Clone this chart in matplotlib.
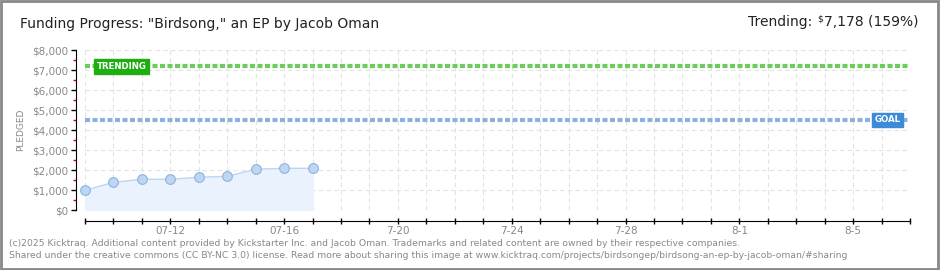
import matplotlib.pyplot as plt
from matplotlib.patches import Rectangle
from matplotlib.ticker import MultipleLocator, FuncFormatter

# days counted from 07-09
day_idx = [0, 1, 2, 3, 4, 5, 6, 7, 8]
pledged = [985, 1385, 1535, 1535, 1635, 1685, 2035, 2085, 2085]
tick_days = [3, 7, 11, 15, 19, 23, 27]
tick_labels = ['07-12', '07-16', '7-20', '7-24', '7-28', '8-1', '8-5']
goal = 4500
trending = 7178
n_days = 29

fig = plt.figure(figsize=(9.4, 2.7), dpi=100)
fig.patches.append(Rectangle((0.001, 0.002), 0.997, 0.995, transform=fig.transFigure,
                             fill=False, edgecolor='#888888', linewidth=2))

ax = fig.add_axes([85 / 940, 1 - 210 / 270, 825 / 940, 160 / 270])
ax.set_xlim(0, n_days)
ax.set_ylim(0, 8000)

ax.fill_between(day_idx, pledged, 0, color='#eaf3fd', zorder=1)
ax.plot(day_idx, pledged, color='#bcd6f2', linewidth=1, zorder=2)
ax.plot(day_idx, pledged, 'o', markersize=7, markerfacecolor='#bcd6f4',
        markeredgecolor='#8fb2dc', markeredgewidth=0.8, zorder=3, clip_on=False)

ax.axhline(trending, color='#6ccc5a', linewidth=3, linestyle=(0, (1.2, 0.6)), zorder=2)
ax.axhline(goal, color='#8eb0dc', linewidth=3, linestyle=(0, (1.2, 0.6)), zorder=2)

ax.text(0.4, trending, 'TRENDING', color='white', fontsize=6.2, fontweight='bold',
        va='center', ha='left', zorder=5,
        bbox=dict(boxstyle='square,pad=0.3', facecolor='#1fae12', edgecolor='#1fae12'))
ax.text(27.75, goal, 'GOAL', color='white', fontsize=6.2, fontweight='bold',
        va='center', ha='left', zorder=5,
        bbox=dict(boxstyle='square,pad=0.3', facecolor='#3d8ad9', edgecolor='#3d8ad9'))

# grid
ax.xaxis.set_minor_locator(MultipleLocator(1))
ax.yaxis.set_major_locator(MultipleLocator(1000))
ax.yaxis.set_minor_locator(MultipleLocator(500))
for d in range(0, n_days + 1):
    ax.axvline(d, color='#e2e2e2', linewidth=0.8, linestyle=(0, (4, 3)), zorder=0)
for v in range(0, 8001, 1000):
    ax.axhline(v, color='#e2e2e2', linewidth=0.8, linestyle=(0, (4, 3)), zorder=0)

for s in ['top', 'right']:
    ax.spines[s].set_visible(False)
ax.spines['left'].set_position(('outward', 6.5))
ax.spines['bottom'].set_position(('outward', 8))

ax.set_xticks(tick_days)
ax.set_xticklabels(tick_labels)
ax.tick_params(axis='x', which='both', direction='inout', length=4.5, width=1, color='black',
               labelsize=7.5, labelcolor='#888888', pad=1)
ax.yaxis.set_major_formatter(FuncFormatter(lambda v, p: '${:,.0f}'.format(v)))
ax.tick_params(axis='y', which='major', length=3.5, width=1, color='black',
               labelsize=7.5, labelcolor='#888888', pad=2)
ax.tick_params(axis='y', which='minor', length=2.5, width=1, color='#dd0000')
ax.set_ylabel('PLEDGED', fontsize=6.5, color='#888888', labelpad=5)

fig.text(20 / 940, 1 - 24 / 270, 'Funding Progress: "Birdsong," an EP by Jacob Oman',
         fontsize=10, color='#222222', va='center', ha='left')

# right-hand trending figure: place pieces from the right edge leftwards
fig.canvas.draw()
r = fig.canvas.get_renderer()
t_val = fig.text(918 / 940, 1 - 22 / 270, '7,178 (159%)', fontsize=10, color='#222222',
                 va='center', ha='right')
x0 = t_val.get_window_extent(r).x0
t_d = fig.text((x0 - 1) / 940, 1 - 19 / 270, '$', fontsize=6.5, color='#222222',
               va='center', ha='right')
x1 = t_d.get_window_extent(r).x0
fig.text((x1 - 5) / 940, 1 - 22 / 270, 'Trending:', fontsize=10, color='#222222',
         va='center', ha='right')

fig.text(9 / 940, 1 - 243 / 270,
         '(c)2025 Kicktraq. Additional content provided by Kickstarter Inc. and Jacob Oman. '
         'Trademarks and related content are owned by their respective companies.',
         fontsize=6.65, color='#888888', va='center', ha='left')
fig.text(9 / 940, 1 - 255 / 270,
         'Shared under the creative commons (CC BY-NC 3.0) license. Read more about sharing this image at '
         'www.kicktraq.com/projects/birdsongep/birdsong-an-ep-by-jacob-oman/#sharing',
         fontsize=6.65, color='#888888', va='center', ha='left')

fig.savefig('out.png', dpi=100)
